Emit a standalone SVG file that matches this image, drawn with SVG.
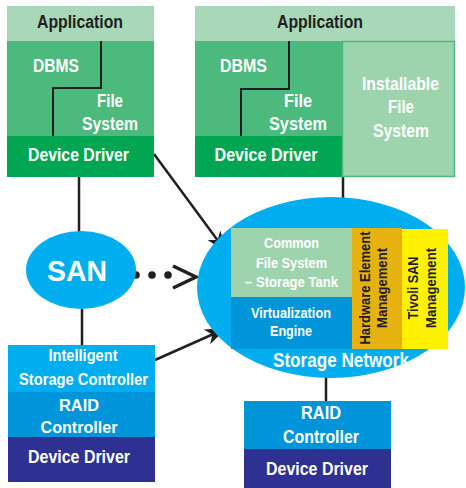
<svg xmlns="http://www.w3.org/2000/svg" width="466" height="488" viewBox="0 0 466 488">
<style>
text{font-family:"Liberation Sans",Arial,sans-serif;font-weight:bold;fill:#fff;text-anchor:middle}
.dk{fill:#231f20}
.f18{font-size:18px}
.f15{font-size:15px}
.f16{font-size:16px}
.ln{stroke:#231f20;stroke-width:2.5;fill:none}
.st{stroke:#231f20;stroke-width:2;fill:none}
</style>
<defs>
<marker id="ah" markerUnits="userSpaceOnUse" markerWidth="24" markerHeight="16" viewBox="0 0 24 16" refX="22" refY="8" orient="auto">
<path d="M0,0 L22,8 L0,16 L6,8 z" fill="#231f20"/>
</marker>
</defs>
<rect width="466" height="488" fill="#fff"/>

<g id="connectors">
<line class="ln" x1="79" y1="177" x2="79" y2="232"/>
<line class="ln" x1="82" y1="308" x2="82" y2="346"/>
<line class="ln" x1="343" y1="177" x2="343" y2="199"/>
<line class="ln" x1="326" y1="376" x2="326" y2="401"/>
<line class="ln" x1="154" y1="154" x2="227" y2="253" marker-end="url(#ah)"/>
<line class="ln" x1="155" y1="360" x2="227" y2="328" marker-end="url(#ah)"/>
<circle cx="136" cy="275" r="3.8" fill="#231f20"/>
<circle cx="152" cy="275" r="3.8" fill="#231f20"/>
<circle cx="168" cy="275" r="3.8" fill="#231f20"/>
<polyline points="173,266 196,277 173,288" stroke="#231f20" stroke-width="3.5" fill="none"/>
</g>

<g id="host-left">
<rect x="7" y="6" width="147" height="35" fill="#a9d8b8"/>
<rect x="7" y="41" width="147" height="95" fill="#4bba7c"/>
<rect x="7" y="136" width="147" height="41" fill="#00a651"/>
<polyline class="st" points="101,41 101,88 53,88 53,136"/>
<text class="dk f18" x="80" y="28" textLength="86" lengthAdjust="spacingAndGlyphs">Application</text>
<text class="f18" x="56" y="72" textLength="46" lengthAdjust="spacingAndGlyphs">DBMS</text>
<text class="f18" x="110" y="107" textLength="26" lengthAdjust="spacingAndGlyphs">File</text>
<text class="f18" x="110" y="130" textLength="56" lengthAdjust="spacingAndGlyphs">System</text>
<text class="f18" x="78.5" y="161" textLength="101" lengthAdjust="spacingAndGlyphs">Device Driver</text>
</g>

<g id="host-right">
<rect x="195" y="6" width="260" height="35" fill="#a9d8b8"/>
<rect x="195" y="41" width="147" height="95" fill="#4bba7c"/>
<rect x="195" y="136" width="147" height="41" fill="#00a651"/>
<rect x="342.5" y="41.5" width="112" height="135" fill="#9dd4ae" stroke="#4bba7c" stroke-width="1.5"/>
<polyline class="st" points="289,41 289,89 241,89 241,136"/>
<text class="dk f18" x="320" y="28" textLength="86" lengthAdjust="spacingAndGlyphs">Application</text>
<text class="f18" x="243.5" y="72" textLength="47" lengthAdjust="spacingAndGlyphs">DBMS</text>
<text class="f18" x="298" y="107" textLength="28" lengthAdjust="spacingAndGlyphs">File</text>
<text class="f18" x="298" y="130" textLength="58" lengthAdjust="spacingAndGlyphs">System</text>
<text class="f18" x="266" y="161" textLength="103" lengthAdjust="spacingAndGlyphs">Device Driver</text>
<text class="f18" x="400.5" y="90" textLength="77" lengthAdjust="spacingAndGlyphs">Installable</text>
<text class="f18" x="401" y="113" textLength="26" lengthAdjust="spacingAndGlyphs">File</text>
<text class="f18" x="401" y="137" textLength="56" lengthAdjust="spacingAndGlyphs">System</text>
</g>

<g id="san">
<ellipse cx="81" cy="270" rx="55" ry="39" fill="#00aeef"/>
<text x="77" y="281" style="font-size:29px" textLength="60" lengthAdjust="spacingAndGlyphs">SAN</text>
</g>

<g id="storage-network">
<ellipse cx="331" cy="287.5" rx="134" ry="90.5" fill="#00aeef"/>
<rect x="231" y="228" width="121" height="69" fill="#9dd4ae"/>
<rect x="231" y="297" width="121" height="52" fill="#0095da"/>
<rect x="352" y="228" width="50" height="121" fill="#e5b20f"/>
<rect x="402" y="229" width="46" height="120" fill="#fff200"/>
<text class="f15" x="291.5" y="248" textLength="55" lengthAdjust="spacingAndGlyphs">Common</text>
<text class="f15" x="291.5" y="268" textLength="71" lengthAdjust="spacingAndGlyphs">File System</text>
<text class="f15" x="291.5" y="287" textLength="93" lengthAdjust="spacingAndGlyphs">– Storage Tank</text>
<text class="f15" x="291" y="318" textLength="80" lengthAdjust="spacingAndGlyphs">Virtualization</text>
<text class="f15" x="291" y="336" textLength="42" lengthAdjust="spacingAndGlyphs">Engine</text>
<text class="dk f15" transform="translate(370,288) rotate(-90)" textLength="113" lengthAdjust="spacingAndGlyphs">Hardware Element</text>
<text class="dk f15" transform="translate(387,288) rotate(-90)" textLength="80" lengthAdjust="spacingAndGlyphs">Management</text>
<text class="dk f15" transform="translate(418,288) rotate(-90)" textLength="63" lengthAdjust="spacingAndGlyphs">Tivoli SAN</text>
<text class="dk f15" transform="translate(436,288) rotate(-90)" textLength="80" lengthAdjust="spacingAndGlyphs">Management</text>
<text x="341" y="367" style="font-size:20px" textLength="136" lengthAdjust="spacingAndGlyphs">Storage Network</text>
</g>

<g id="storage-left">
<rect x="8" y="345" width="147" height="47" fill="#00aeef"/>
<rect x="8" y="392" width="147" height="45" fill="#0095da"/>
<rect x="8" y="437" width="147" height="45" fill="#2e3192"/>
<text class="f16" x="83" y="361" textLength="69" lengthAdjust="spacingAndGlyphs">Intelligent</text>
<text class="f16" x="83.5" y="385" textLength="129" lengthAdjust="spacingAndGlyphs">Storage Controller</text>
<text class="f16" x="79" y="411" textLength="40" lengthAdjust="spacingAndGlyphs">RAID</text>
<text class="f16" x="79" y="433" textLength="77" lengthAdjust="spacingAndGlyphs">Controller</text>
<text class="f18" x="79" y="463" textLength="102" lengthAdjust="spacingAndGlyphs">Device Driver</text>
</g>

<g id="storage-right">
<rect x="244" y="401" width="147" height="48" fill="#0095da"/>
<rect x="244" y="449" width="147" height="39" fill="#2e3192"/>
<text class="f18" x="321" y="419" textLength="40" lengthAdjust="spacingAndGlyphs">RAID</text>
<text class="f18" x="321" y="443" textLength="76" lengthAdjust="spacingAndGlyphs">Controller</text>
<text class="f18" x="317" y="475" textLength="102" lengthAdjust="spacingAndGlyphs">Device Driver</text>
</g>
</svg>
